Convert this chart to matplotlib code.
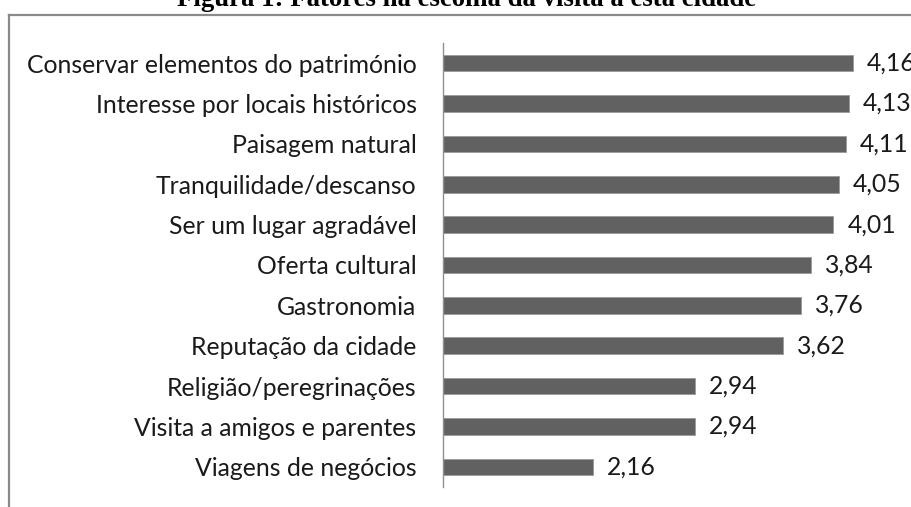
import matplotlib
matplotlib.use("Agg")
import matplotlib.pyplot as plt
from matplotlib.lines import Line2D

# data
factors = ["Conservar elementos do património",
           "Interesse por locais históricos",
           "Paisagem natural",
           "Tranquilidade/descanso",
           "Ser um lugar agradável",
           "Oferta cultural",
           "Gastronomia",
           "Reputação da cidade",
           "Religião/peregrinações",
           "Visita a amigos e parentes",
           "Viagens de negócios"]
scores = [4.16, 4.13, 4.11, 4.05, 4.01, 3.84, 3.76, 3.62, 2.94, 2.94, 2.16]
score_labels = ["4,16", "4,13", "4,11", "4,05", "4,01", "3,84", "3,76", "3,62", "2,94", "2,94", "2,16"]

title = "Figura 1: Fatores na escolha da visita a esta cidade"

W, H = 911, 507
fig = plt.figure(figsize=(W / 100, H / 100), dpi=100)
fig.patch.set_facecolor("white")

ax = fig.add_axes([443 / W, 1 - 487 / H, 1 - 443 / W, 444 / H])
y = list(range(len(factors)))[::-1]
ax.barh(y, [s - 1 for s in scores], left=1, height=0.41,
        color="#616161", edgecolor="#9a9a9a", linewidth=0.6)
ax.set_xlim(1, 1 + (W - 443) / 129.7)
ax.set_ylim(-0.5, len(factors) - 0.5)
ax.set_yticks(y)
ax.set_yticklabels(factors, family="Lato", fontsize=17.8, color="#1a1a1a")
ax.tick_params(axis="y", length=0, pad=19)
ax.set_xticks([])
for s in ["top", "right", "bottom"]:
    ax.spines[s].set_visible(False)
ax.spines["left"].set_color("#8f8f8f")
ax.spines["left"].set_linewidth(1.0)

for yi, s, lab in zip(y, scores, score_labels):
    ax.annotate(lab, (s, yi), xytext=(10, 0), textcoords="offset points",
                va="center", ha="left", family="Lato", fontsize=17.8,
                color="#1a1a1a", annotation_clip=False)

# frame of the chart area (cut off by the image edges)
fig.add_artist(Line2D([9 / W, 9 / W], [-0.1, 1 - 15 / H], transform=fig.transFigure,
                      color="#8a8a8a", linewidth=1.6))
fig.add_artist(Line2D([9 / W, 1.1], [1 - 15 / H, 1 - 15 / H], transform=fig.transFigure,
                      color="#8a8a8a", linewidth=1.6))

fig.text(466.5 / W, 1 - 6 / H, title, ha="center", va="baseline",
         family="Liberation Serif", fontweight="bold", fontsize=19.3, color="black")

fig.savefig("out.png", dpi=100)
